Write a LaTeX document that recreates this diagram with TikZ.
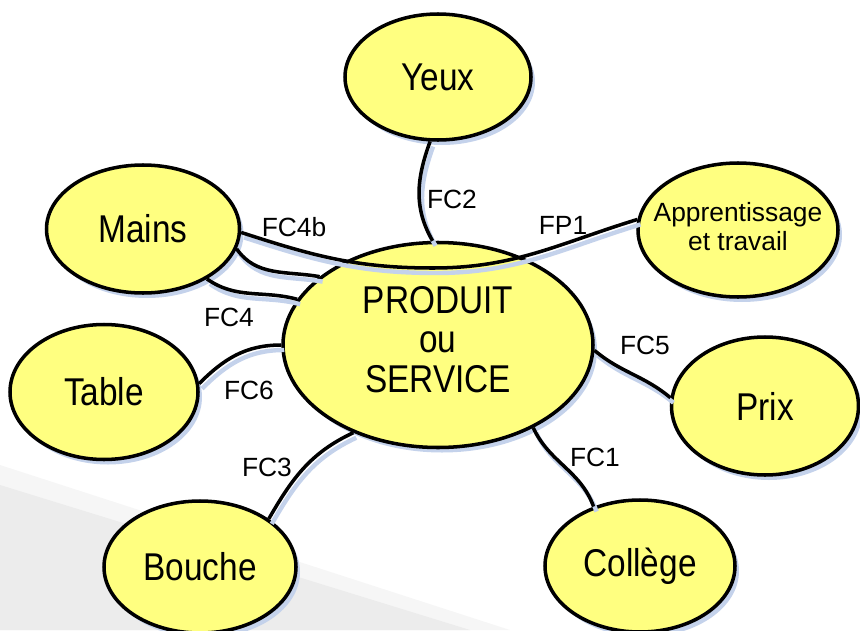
\documentclass[tikz,border=0pt]{standalone}
\usepackage{graphicx}
\usepackage{fontspec}
\setmainfont{Liberation Sans}
\usetikzlibrary{shapes}
\usetikzlibrary{shadows}
\definecolor{blobfill}{RGB}{255,255,128}
\definecolor{shadowblue}{RGB}{196,210,235}
\definecolor{slidegrey}{RGB}{236,236,236}
\newcommand{\stretchtxt}[1]{\scalebox{1}[1.16]{#1}}

\begin{document}
\begin{tikzpicture}
        [blob/.style={ellipse, draw=black, line width=2pt, fill=blobfill, inner sep=0pt, inner xsep=-1cm,
           drop shadow={shadow xshift=0.08cm, shadow yshift=-0.1cm, fill=shadowblue, opacity=1},
           font=\fontsize{19}{19.6}\selectfont},
         lbl/.style={font=\fontsize{15}{18}\selectfont, inner sep=1pt},
         wire/.style={line width=2pt,
           preaction={draw=shadowblue, line width=2.5pt, transform canvas={shift={(0.06,-0.1)}}}}]
        \useasboundingbox (0,0) rectangle (17.2,12.6);
        % slide background
        \fill [slidegrey!50] (0,3.3) -- (10.2,0) -- (0,0) -- cycle;
        \fill [slidegrey] (0,2.9) -- (9.4,0) -- (0,0) -- cycle;
        \node [blob, minimum width=6.2cm, minimum height=4.1cm] (prod) at (8.76,5.70)
              {\stretchtxt{\begin{tabular}{@{}c@{}}PRODUIT\\ou\\SERVICE\end{tabular}}};
        \node [blob, minimum width=3.72cm, minimum height=2.52cm] (yeux) at (8.76,11.06) {\stretchtxt{Yeux}};
        \node [blob, minimum width=3.86cm, minimum height=2.56cm] (mains) at (2.86,8.02) {\stretchtxt{Mains}};
        \node [blob, minimum width=4cm, minimum height=2.68cm, font=\fontsize{15}{17}\selectfont] (appr) at (14.76,8.0)
              {\begin{tabular}{@{}c@{}}Apprentissage\\et travail\end{tabular}};
        \node [blob, minimum width=3.76cm, minimum height=2.7cm] (table) at (2.08,4.76) {\stretchtxt{Table}};
        \node [blob, minimum width=3.74cm, minimum height=2.76cm] (prix) at (15.3,4.48) {\stretchtxt{Prix}};
        \node [blob, minimum width=3.84cm, minimum height=2.64cm] (bouche) at (4.0,1.26) {\stretchtxt{Bouche}};
        \node [blob, minimum width=3.8cm, minimum height=2.64cm] (college) at (12.8,1.28) {\stretchtxt{Collège}};
        % connectors
        \coordinate (dip) at (8.66,7.24);
        \draw [wire] (yeux.263) to[out=250,in=120] (prod.93);
        \draw [wire] (mains.-2) to[out=-18,in=180] (dip) to[out=0,in=197] (appr.174);
        \draw [wire] (mains.-12) to[out=-55,in=170] (prod.150);
        \draw [wire] (mains.-38) to[out=-35,in=165] (prod.162);
        \draw [wire] (table.5) to[out=45,in=180] (prod.180);
        \draw [wire] (prod.-2) to[out=-40,in=140] (prix.175);
        \draw [wire] (prod.226) to[out=205,in=60] (bouche.35);
        \draw [wire] (prod.-41) to[out=-65,in=110] (college.128);
        % labels
        \node [lbl] (fc2) at (9.04,8.62) {FC2};
        \node [lbl] (fc4b) at (5.88,8.06) {FC4b};
        \node [lbl] (fp1) at (11.26,8.1) {FP1};
        \node [lbl] (fc4) at (4.58,6.26) {FC4};
        \node [lbl] (fc6) at (4.98,4.8) {FC6};
        \node [lbl] (fc5) at (12.9,5.7) {FC5};
        \node [lbl] (fc3) at (5.34,3.26) {FC3};
        \node [lbl] (fc1) at (11.9,3.46) {FC1};
    \end{tikzpicture}
\end{document}
